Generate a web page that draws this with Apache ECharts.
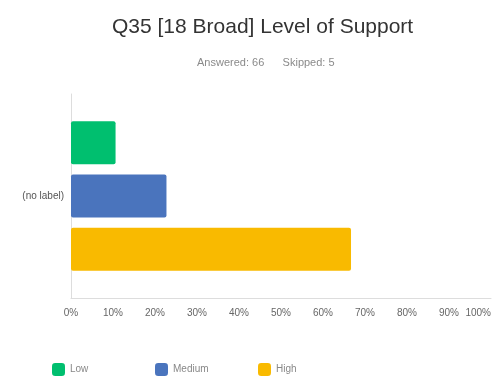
<!DOCTYPE html>
<html>
<head>
<meta charset="utf-8">
<script src="https://cdn.jsdelivr.net/npm/echarts@6/dist/echarts.min.js"></script>
<style>
  html, body { margin: 0; padding: 0; background: #fff; }
  #chart { width: 495px; height: 378px; }
</style>
</head>
<body>
<div id="chart"></div>
<script>
// Survey response shares (percent of answered)
const categories = ['(no label)'];
const seriesNames = ['Low', 'Medium', 'High'];
const seriesValues = [[10.61], [22.73], [66.67]];
const seriesColors = ['#00BF6F', '#4A74BD', '#F9BA00'];
const xTicks = [0, 10, 20, 30, 40, 50, 60, 70, 80, 90, 100];

const FONT = '"Liberation Sans", Arial, sans-serif';
const chart = echarts.init(document.getElementById('chart'));

const series = seriesNames.map((name, i) => ({
  name: name,
  type: 'bar',
  data: seriesValues[i],
  barWidth: 43,
  barGap: '24%',
  itemStyle: { color: seriesColors[i], borderRadius: 2 }
}));

// One legend per series so each key sits in its own fixed slot
const legendLefts = [47, 150, 253];
const legends = seriesNames.map((name, i) => ({
  data: [name],
  top: 358,
  left: legendLefts[i],
  itemWidth: 13,
  itemHeight: 13,
  icon: 'roundRect',
  textStyle: { fontSize: 10, color: '#888', fontFamily: FONT }
}));

chart.setOption({
  animation: false,
  textStyle: { fontFamily: FONT },
  title: [{
    text: 'Q35 [18 Broad] Level of Support',
    left: 107,
    top: 12,
    textStyle: { fontSize: 21, fontWeight: 'normal', color: '#333', fontFamily: FONT }
  }, {
    text: 'Answered: 66      Skipped: 5',
    left: 192,
    top: 52,
    textStyle: { fontSize: 11, fontWeight: 'normal', color: '#8a8a8a', fontFamily: FONT }
  }],
  legend: legends,
  grid: { left: 71, right: 4, top: 94, bottom: 80 },
  xAxis: {
    type: 'value',
    min: 0,
    max: 100,
    interval: 10,
    axisLine: { show: true, lineStyle: { color: '#ddd' } },
    axisTick: { show: false },
    splitLine: { show: false },
    axisLabel: {
      formatter: v => xTicks.includes(v) ? v + '%' : '',
      fontSize: 10,
      color: '#666',
      margin: 10,
      alignMaxLabel: 'right',
      fontFamily: FONT
    }
  },
  yAxis: {
    type: 'category',
    data: categories,
    axisLine: { show: true, lineStyle: { color: '#ddd' } },
    axisTick: { show: false },
    axisLabel: { fontSize: 10, color: '#555', margin: 7, fontFamily: FONT }
  },
  series: series
});
</script>
</body>
</html>
